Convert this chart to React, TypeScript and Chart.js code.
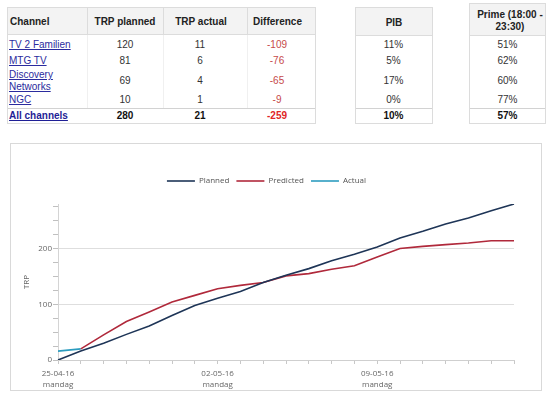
import React, { useEffect, useRef } from 'react';
import { Chart, registerables } from 'chart.js';

Chart.register(...registerables);

// ---- Table data ----
const channels = ['TV 2 Familien', 'MTG TV', 'Discovery Networks', 'NGC'];
const trpPlannedByChannel = [120, 81, 69, 10];
const trpActualByChannel = [11, 6, 4, 1];
const differenceByChannel = [-109, -76, -65, -9];
const pibByChannel = ['11%', '5%', '17%', '0%'];
const primeByChannel = ['51%', '62%', '60%', '77%'];
const totalLabel = 'All channels';
const totalPlanned = 280;
const totalActual = 21;
const totalDifference = -259;
const totalPib = '10%';
const totalPrime = '57%';

// ---- Chart data ----
const dates = [
  '25-04-16', '26-04-16', '27-04-16', '28-04-16', '29-04-16', '30-04-16', '01-05-16',
  '02-05-16', '03-05-16', '04-05-16', '05-05-16', '06-05-16', '07-05-16', '08-05-16',
  '09-05-16', '10-05-16', '11-05-16', '12-05-16', '13-05-16', '14-05-16', '15-05-16',
];
const mondays = ['25-04-16', '02-05-16', '09-05-16'];
const weekdayName = 'mandag';
const planned = [0, 16, 30, 46, 61, 80, 98, 111, 123, 139, 152, 164, 178, 190, 203, 219, 231, 244, 255, 268, 280];
const predicted = [null, 20, 45, 69, 86, 104, 116, 128, 134, 139, 151, 155, 163, 169, 185, 200, 204, 207, 210, 214, 214];
const actual = [16, 20, null, null, null, null, null, null, null, null, null, null, null, null, null, null, null, null, null, null, null];
const yMax = 280;
const yMinorStep = 25;
const yLabelStep = 100;

const abs = (left: number, top: number, width: number, height: number): React.CSSProperties => ({
  position: 'absolute', left, top, width, height, boxSizing: 'border-box',
});

function T({ cx, cy, children, style }: { cx: number; cy: number; children: React.ReactNode; style?: React.CSSProperties }) {
  return (
    <div style={{ position: 'absolute', left: cx - 60, width: 120, top: cy - 6, lineHeight: '12px', textAlign: 'center', whiteSpace: 'nowrap', ...style }}>
      {children}
    </div>
  );
}

const link: React.CSSProperties = { color: '#2b2b9e', textDecoration: 'underline' };
const LINE = '#dcdcdc';

const legendGap = {
  id: 'legendGap',
  beforeLayout(chart: any) {
    const lg = chart.legend;
    if (lg && !lg.__patched) {
      const orig = lg.fit;
      lg.fit = function () {
        orig.call(this);
        this.height += 9;
      };
      lg.__patched = true;
    }
  },
};

function ChartBox() {
  const ref = useRef<HTMLCanvasElement>(null);
  useEffect(() => {
    if (!ref.current) return;
    const font = { family: '"Open Sans", sans-serif', size: 8 };
    const chart = new Chart(ref.current, {
      type: 'line',
      data: {
        labels: dates,
        datasets: [
          { label: 'Planned', data: planned, borderColor: '#1e3557', backgroundColor: '#1e3557', borderWidth: 1.6, pointRadius: 0, tension: 0 },
          { label: 'Predicted', data: predicted, borderColor: '#b0293b', backgroundColor: '#b0293b', borderWidth: 1.6, pointRadius: 0, tension: 0 },
          { label: 'Actual', data: actual, borderColor: '#2c9cbf', backgroundColor: '#2c9cbf', borderWidth: 1.6, pointRadius: 0, tension: 0 },
        ],
      },
      plugins: [legendGap],
      options: {
        animation: false,
        responsive: false,
        maintainAspectRatio: false,
        layout: { padding: { top: 26, right: 7, left: 0, bottom: 0 } },
        plugins: {
          legend: {
            position: 'top',
            labels: { usePointStyle: true, pointStyle: 'line', pointStyleWidth: 28, padding: 7, color: '#555', font },
          },
          tooltip: { enabled: false },
        },
        scales: {
          x: {
            type: 'category',
            offset: false,
            grid: { drawOnChartArea: false, drawTicks: true, tickLength: 4, tickColor: '#c8c8c8' },
            border: { display: true, color: '#cfcfcf' },
            ticks: {
              autoSkip: false, maxRotation: 0, minRotation: 0, padding: 4, color: '#666',
              font: { ...font, lineHeight: 1.4 },
              callback: (_v: any, i: number) => (mondays.includes(dates[i]) ? [dates[i], weekdayName] : ''),
            },
            afterFit: (s: any) => { s.height = 29; },
          },
          y: {
            min: 0, max: yMax,
            grid: {
              drawTicks: true, tickLength: 5,
              color: (c: any) => (c.tick && c.tick.value > 0 && c.tick.value % yLabelStep === 0 ? '#dedede' : 'rgba(0,0,0,0)'),
              tickColor: '#c0c0c0',
            },
            border: { display: true, color: '#d4d4d4' },
            ticks: {
              stepSize: yMinorStep, includeBounds: false, padding: 1, color: '#666', font,
              callback: (v: any) => (Number(v) % yLabelStep === 0 ? String(v) : ''),
            },
            title: { display: true, text: 'TRP', color: '#666', font, padding: { top: 3, bottom: 0 } },
            afterFit: (s: any) => { s.width = 39; },
          },
        },
      },
    } as any);
    return () => chart.destroy();
  }, []);
  return <canvas ref={ref} width={502} height={245} style={{ position: 'absolute', left: 19, top: 144, width: 502, height: 245 }} />;
}

export default function App() {
  const rowY = [45, 61, 81, 100];
  const totY = 116;
  return (
    <div style={{ position: 'fixed', left: 0, top: 0, width: 550, height: 399, background: '#fff', fontFamily: '"Liberation Sans", Arial, sans-serif', fontSize: 10, color: '#333' }}>
      {/* main table */}
      <div style={{ ...abs(7, 7, 309, 117), border: `1px solid ${LINE}` }} />
      <div style={{ ...abs(8, 8, 307, 26), background: '#f3f3f3' }} />
      <div style={{ ...abs(8, 34, 307, 1), background: LINE }} />
      {[87, 163, 247].map((x) => (
        <div key={x} style={{ ...abs(x, 8, 1, 26), background: LINE }} />
      ))}
      {[87, 163, 247].map((x) => (
        <div key={'b' + x} style={{ ...abs(x, 35, 1, 73), background: '#f0f0f0' }} />
      ))}
      <div style={{ ...abs(8, 108, 307, 1), background: '#d2d2d2' }} />
      <div style={{ position: 'absolute', left: 10, top: 16, lineHeight: '12px', fontWeight: 'bold', color: '#222' }}>Channel</div>
      <T cx={125} cy={22} style={{ fontWeight: 'bold', color: '#222' }}>TRP planned</T>
      <T cx={201} cy={22} style={{ fontWeight: 'bold', color: '#222' }}>TRP actual</T>
      <T cx={277.5} cy={22} style={{ fontWeight: 'bold', color: '#222' }}>Difference</T>
      {channels.map((c, i) => (
        <div key={c} style={{ position: 'absolute', left: 9, top: rowY[i] - (c.length > 14 ? 12 : 6), width: 64, lineHeight: '12px', ...link }}>{c}</div>
      ))}
      {trpPlannedByChannel.map((v, i) => <T key={'p' + i} cx={125} cy={rowY[i]}>{v}</T>)}
      {trpActualByChannel.map((v, i) => <T key={'a' + i} cx={200} cy={rowY[i]}>{v}</T>)}
      {differenceByChannel.map((v, i) => <T key={'d' + i} cx={277} cy={rowY[i]} style={{ color: '#c64a4a' }}>{v}</T>)}
      <div style={{ position: 'absolute', left: 9, top: totY - 6, lineHeight: '12px', fontWeight: 'bold', ...link, color: '#1f1f96' }}>{totalLabel}</div>
      <T cx={125} cy={totY} style={{ fontWeight: 'bold', color: '#111' }}>{totalPlanned}</T>
      <T cx={200} cy={totY} style={{ fontWeight: 'bold', color: '#111' }}>{totalActual}</T>
      <T cx={277} cy={totY} style={{ fontWeight: 'bold', color: '#e02626' }}>{totalDifference}</T>

      {/* PIB table */}
      <div style={{ ...abs(355, 7, 78, 117), border: `1px solid ${LINE}` }} />
      <div style={{ ...abs(356, 8, 76, 27), background: '#f3f3f3' }} />
      <div style={{ ...abs(356, 35, 76, 1), background: LINE }} />
      <div style={{ ...abs(356, 108, 76, 1), background: '#d2d2d2' }} />
      <T cx={394} cy={23} style={{ fontWeight: 'bold', color: '#222' }}>PIB</T>
      {pibByChannel.map((v, i) => <T key={'pib' + i} cx={393.5} cy={rowY[i]}>{v}</T>)}
      <T cx={393.5} cy={totY} style={{ fontWeight: 'bold', color: '#111' }}>{totalPib}</T>

      {/* Prime table */}
      <div style={{ ...abs(469, 3, 77, 121), border: `1px solid ${LINE}` }} />
      <div style={{ ...abs(470, 4, 75, 31), background: '#f3f3f3' }} />
      <div style={{ ...abs(470, 35, 75, 1), background: LINE }} />
      <div style={{ ...abs(470, 108, 75, 1), background: '#d2d2d2' }} />
      <T cx={510} cy={15} style={{ fontWeight: 'bold', color: '#222' }}>Prime (18:00 -</T>
      <T cx={510} cy={27} style={{ fontWeight: 'bold', color: '#222' }}>23:30)</T>
      {primeByChannel.map((v, i) => <T key={'pr' + i} cx={507.5} cy={rowY[i]}>{v}</T>)}
      <T cx={507.5} cy={totY} style={{ fontWeight: 'bold', color: '#111' }}>{totalPrime}</T>

      {/* chart box */}
      <div style={{ ...abs(10, 143, 532, 248), border: '1px solid #d9d9d9' }} />
      <ChartBox />
    </div>
  );
}
